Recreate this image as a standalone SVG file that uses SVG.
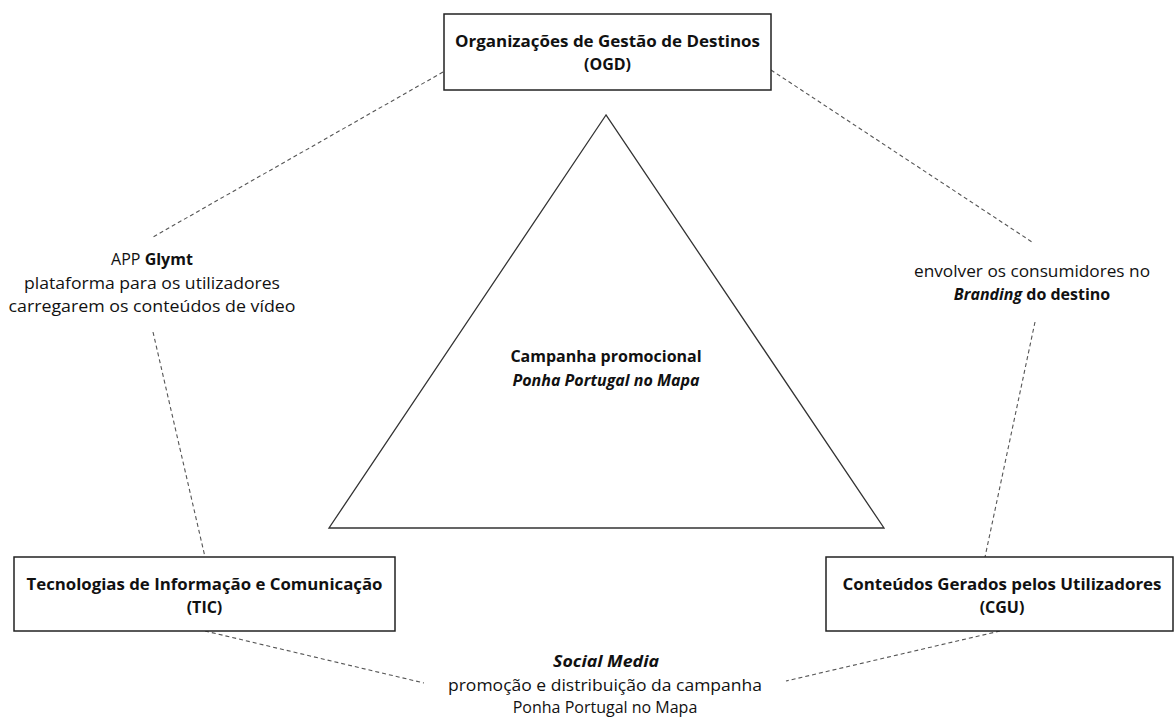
<svg xmlns="http://www.w3.org/2000/svg" width="1176" height="718" viewBox="0 0 1176 718">
  <style>
    text { font-family: "Open Sans", "Liberation Sans", sans-serif; font-size: 16px; fill: #111; text-anchor: middle; }
    .b { font-weight: bold; }
    .bi { font-weight: bold; font-style: italic; }
    .box { fill: #fff; stroke: #222; stroke-width: 1.5; }
    .tri { fill: #fff; stroke: #333; stroke-width: 1.3; }
    .link { fill: none; stroke: #555; stroke-width: 1.1; stroke-dasharray: 4 3; }
  </style>
  <rect width="1176" height="718" fill="#fff"/>

  <!-- dashed relations between the three actors, broken around their labels -->
  <g id="connectors">
    <line class="link" x1="443" y1="72" x2="153" y2="237"/>
    <line class="link" x1="771" y1="70" x2="1032" y2="242"/>
    <line class="link" x1="153" y1="332" x2="205" y2="557"/>
    <line class="link" x1="1035" y1="322" x2="985" y2="557"/>
    <line class="link" x1="205" y1="631" x2="424" y2="683"/>
    <line class="link" x1="1000" y1="631" x2="786" y2="681"/>
  </g>

  <!-- central campaign -->
  <g id="campanha">
    <polygon class="tri" points="606,115 329,528 884,528"/>
    <text class="b" x="606" y="362">Campanha promocional</text>
    <text class="bi" x="606" y="386">Ponha Portugal no Mapa</text>
  </g>

  <g id="ogd">
    <rect class="box" x="444" y="14" width="327" height="76"/>
    <text class="b" x="607.5" y="47" textLength="305" lengthAdjust="spacingAndGlyphs">Organizações de Gestão de Destinos</text>
    <text class="b" x="607.5" y="70">(OGD)</text>
  </g>

  <g id="tic">
    <rect class="box" x="14" y="557" width="381" height="74"/>
    <text class="b" x="204.5" y="590" textLength="356" lengthAdjust="spacingAndGlyphs">Tecnologias de Informação e Comunicação</text>
    <text class="b" x="204.5" y="613">(TIC)</text>
  </g>

  <g id="cgu">
    <rect class="box" x="826" y="557" width="347" height="74"/>
    <text class="b" x="1002" y="590" textLength="319" lengthAdjust="spacingAndGlyphs">Conteúdos Gerados pelos Utilizadores</text>
    <text class="b" x="1002" y="613">(CGU)</text>
  </g>

  <!-- relation labels -->
  <g id="label-app">
    <text x="152" y="265">APP <tspan class="b">Glymt</tspan></text>
    <text x="152" y="289" textLength="256" lengthAdjust="spacingAndGlyphs">plataforma para os utilizadores</text>
    <text x="152" y="312" textLength="287" lengthAdjust="spacingAndGlyphs">carregarem os conteúdos de vídeo</text>
  </g>

  <g id="label-branding">
    <text x="1032" y="277" textLength="236" lengthAdjust="spacingAndGlyphs">envolver os consumidores no</text>
    <text x="1032" y="300"><tspan class="bi">Branding</tspan><tspan class="b"> do destino</tspan></text>
  </g>

  <g id="label-social">
    <text class="bi" x="606" y="667" textLength="106" lengthAdjust="spacingAndGlyphs">Social Media</text>
    <text x="605" y="691" textLength="314" lengthAdjust="spacingAndGlyphs">promoção e distribuição da campanha</text>
    <text x="605" y="713">Ponha Portugal no Mapa</text>
  </g>
</svg>
